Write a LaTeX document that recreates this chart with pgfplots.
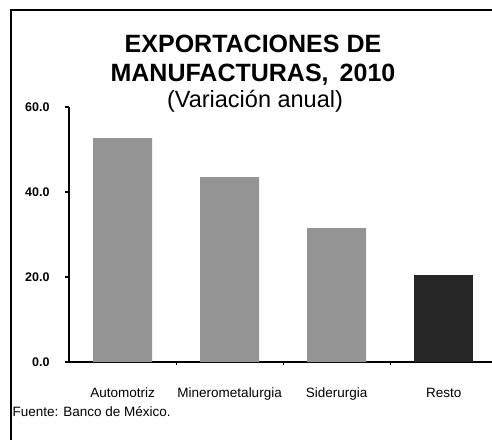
\documentclass[border=0pt]{standalone}
\usepackage{pgfplots}
\pgfplotsset{compat=1.18}
\usepackage{fontspec}
\setmainfont{Liberation Sans}
\begin{document}
\begin{tikzpicture}
\useasboundingbox (-69pt,-77pt) rectangle (423pt,362pt);
\draw[line width=1.2pt] (-58pt,-80pt) -- (-58pt,352pt) -- (430pt,352pt);
\begin{axis}[
  at={(0pt,0pt)}, anchor=south west,
  scale only axis, width=423pt, height=255pt,
  xmin=-0.5, xmax=3.45, ymin=0, ymax=60,
  axis x line=bottom, axis y line=left,
  axis line style={line width=1.6pt, -},
  ytick={0,20,40,60},
  yticklabel style={font=\fontsize{12.5}{14}\selectfont\bfseries, xshift=-12pt},
  /pgf/number format/assume math mode=true,
  /pgf/number format/.cd, fixed, fixed zerofill, precision=1, /pgfplots/.cd,
  ytick style={line width=1.4pt, black},
  tick align=outside, major tick length=4pt,
  xtick={0,1,2,3},
  xticklabels={Automotriz,Minerometalurgia,Siderurgia,Resto},
  xticklabel style={font=\fontsize{13.5}{15}\selectfont, anchor=base, yshift=-31pt},
  x tick style={draw=none},
  minor xtick={0.5,1.5,2.5},
  minor tick length=3pt,
  minor x tick style={line width=1pt, draw=black},
  clip=false,
]
\addplot[ybar, bar width=59pt, fill=black!42, draw=none] coordinates {(0,52.7) (1,43.5) (2,31.5)};
\addplot[ybar, bar width=59pt, fill=black!85, draw=none] coordinates {(3,20.5)};
\end{axis}
\node[anchor=base, font=\fontsize{25}{28}\selectfont\bfseries] at (184pt,309pt) {EXPORTACIONES DE};
\node[anchor=base, font=\fontsize{25}{28}\selectfont\bfseries] at (184pt,280pt) {MANUFACTURAS,\, 2010};
\node[anchor=base, font=\fontsize{23.5}{26}\selectfont] at (186pt,254pt) {(Variación anual)};
\node[anchor=west, font=\fontsize{13.5}{15}\selectfont] at (-60pt,-50pt) {Fuente: Banco de México.};
\end{tikzpicture}
\end{document}
